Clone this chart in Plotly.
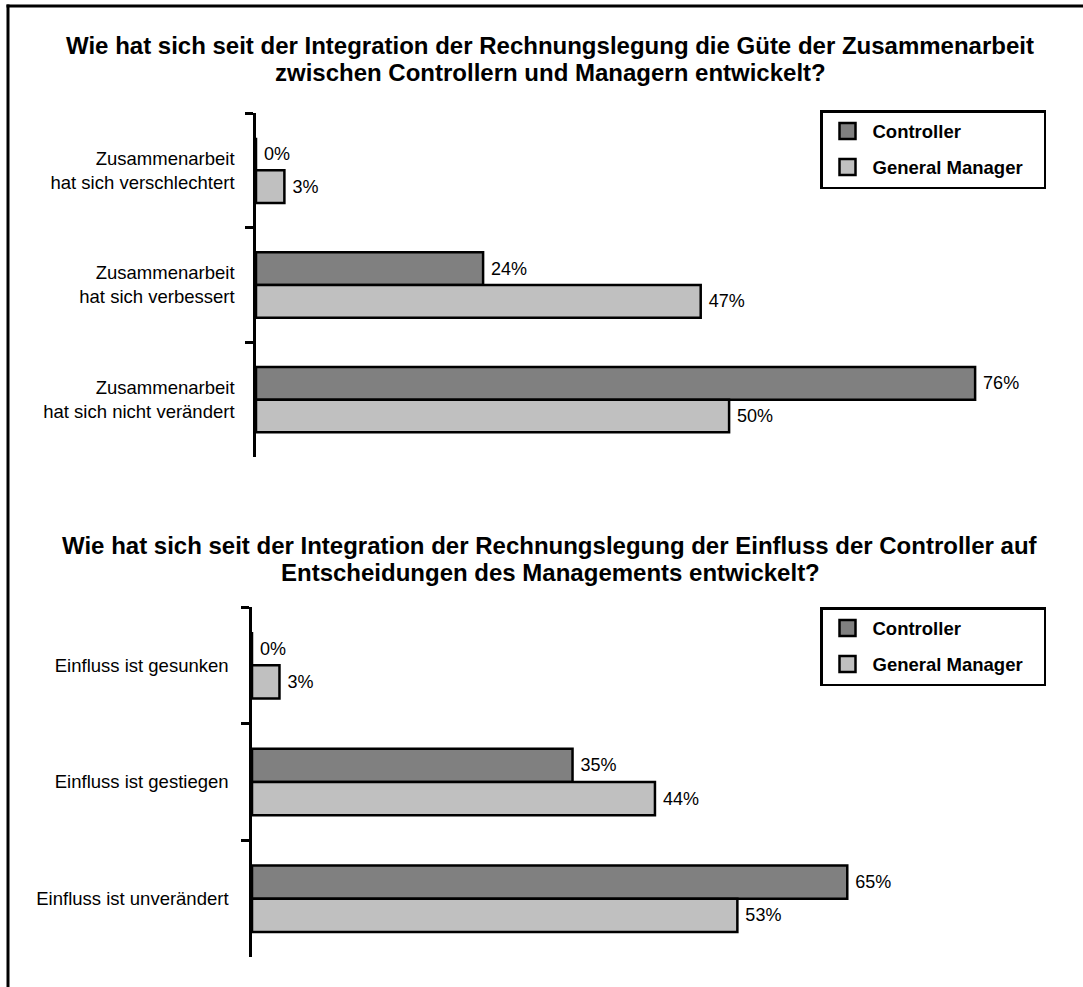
import plotly.graph_objects as go

# ---- data ----
title_top_lines = ["Wie hat sich seit der Integration der Rechnungslegung die Güte der Zusammenarbeit",
                   "zwischen Controllern und Managern entwickelt?"]
title_bottom_lines = ["Wie hat sich seit der Integration der Rechnungslegung der Einfluss der Controller auf",
                      "Entscheidungen des Managements entwickelt?"]

cats_top = ["Zusammenarbeit<br>hat sich verschlechtert",
            "Zusammenarbeit<br>hat sich verbessert",
            "Zusammenarbeit<br>hat sich nicht verändert"]
controller_top = [0, 24, 76]
manager_top = [3, 47, 50]

cats_bottom = ["Einfluss ist gesunken",
               "Einfluss ist gestiegen",
               "Einfluss ist unverändert"]
controller_bottom = [0, 35, 65]
manager_bottom = [3, 44, 53]

series_names = ["Controller", "General Manager"]
colors = ["#808080", "#C0C0C0"]

FONT = "Liberation Sans, Arial, sans-serif"
W, H = 1083, 987

def px(x):
    return x / W

def py(y):
    return 1 - y / H

fig = go.Figure()

def add_pair(cats, c_vals, m_vals, xa, ya, legend, grp):
    for i, (name, vals, col) in enumerate(zip(series_names, [c_vals, m_vals], colors)):
        fig.add_trace(go.Bar(
            y=cats, x=vals, name=name, orientation="h",
            marker=dict(color=col, line=dict(color="black", width=2.5)),
            texttemplate="\u00a0%{x}%", textposition="outside",
            textfont=dict(family=FONT, size=18, color="black"),
            cliponaxis=False, showlegend=False,
            xaxis=xa, yaxis=ya, legendgroup=f"{grp}{i}",
        ))
    # legend entries (square swatches)
    for i, (name, col) in enumerate(zip(series_names, colors)):
        fig.add_trace(go.Scatter(
            x=[None], y=[None], mode="markers", name=name + "\u00a0\u00a0\u00a0",
            marker=dict(symbol="square", size=16, color=col,
                        line=dict(color="black", width=2.5)),
            xaxis=xa, yaxis=ya, legend=legend, legendgroup=f"{grp}{i}",
            showlegend=True, hoverinfo="skip",
        ))

add_pair(cats_top, controller_top, manager_top, "x", "y", "legend", "a")
add_pair(cats_bottom, controller_bottom, manager_bottom, "x2", "y2", "legend2", "b")

def yaxis_common(standoff):
    return dict(
        showline=True, linecolor="black", linewidth=2.5,
        ticks="outside", tickson="boundaries", ticklen=8, tickwidth=2.5, tickcolor="black",
        showgrid=False, zeroline=False,
        tickfont=dict(family=FONT, size=18.5, color="black"),
        ticklabelstandoff=standoff,
    )

xaxis_common = dict(showline=False, showticklabels=False, showgrid=False,
                    zeroline=False, ticks="")

legend_common = dict(
    xanchor="left", yanchor="top",
    bordercolor="black", borderwidth=2.5, bgcolor="white",
    font=dict(family=FONT, size=18.5, color="black", weight="bold"),
    itemwidth=40, tracegroupgap=9, traceorder="grouped", itemsizing="trace",
)

fig.update_layout(
    width=W, height=H,
    margin=dict(l=0, r=0, t=0, b=0),
    paper_bgcolor="white", plot_bgcolor="white",
    barmode="group", bargap=0.43, bargroupgap=0,
    xaxis=dict(domain=[px(256), px(1040)], range=[0, 784/9.462], anchor="y", **xaxis_common),
    yaxis=dict(domain=[py(457), py(113)], range=[2.5, -0.5], anchor="x", **yaxis_common(15)),
    xaxis2=dict(domain=[px(252), px(1040)], range=[0, 788/9.158], anchor="y2", **xaxis_common),
    yaxis2=dict(domain=[py(957), py(607)], range=[2.5, -0.5], anchor="x2", **yaxis_common(17)),
    legend=dict(x=px(820), y=py(110), **legend_common),
    legend2=dict(x=px(820), y=py(607), **legend_common),
    font=dict(family=FONT, color="black"),
    showlegend=True,
)

for lines, ys in [(title_top_lines, [45, 72]), (title_bottom_lines, [545, 572])]:
    for txt, yc in zip(lines, ys):
        fig.add_annotation(
            text=txt, xref="paper", yref="paper", x=px(550), y=py(yc),
            xanchor="center", yanchor="middle", showarrow=False, align="center",
            font=dict(family=FONT, size=24, color="black", weight="bold"),
        )

# outer frame (top and left edges visible)
fig.add_shape(type="line", xref="paper", yref="paper",
              x0=px(6.5), x1=1.02, y0=py(6), y1=py(6),
              line=dict(color="black", width=3))
fig.add_shape(type="line", xref="paper", yref="paper",
              x0=px(8), x1=px(8), y0=py(4.5), y1=-0.02,
              line=dict(color="black", width=3))

fig.write_html("out.html", config={"displayModeBar": False},
               post_script="document.body.style.margin='0px';")
